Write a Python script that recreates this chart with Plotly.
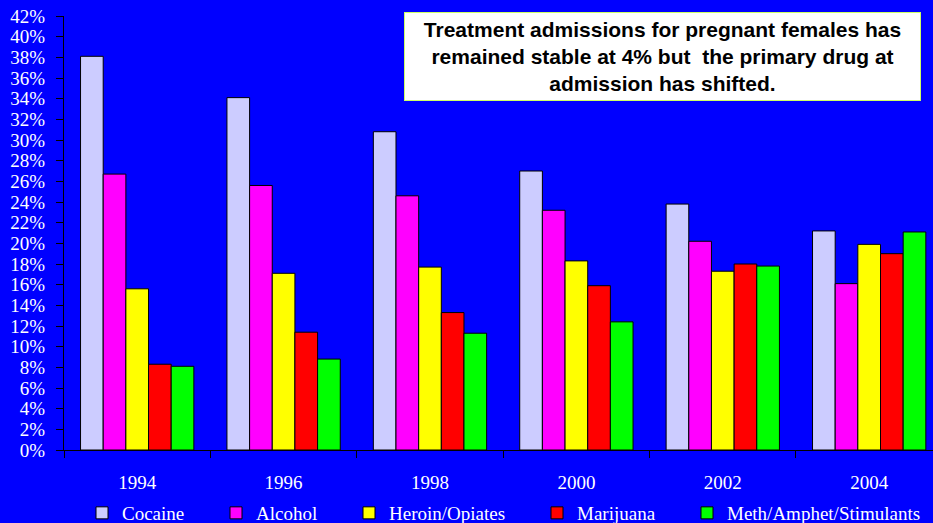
import plotly.graph_objects as go

years = ["1994", "1996", "1998", "2000", "2002", "2004"]
series_names = ["Cocaine", "Alcohol", "Heroin/Opiates", "Marijuana", "Meth/Amphet/Stimulants"]
cocaine = [38.1, 34.1, 30.8, 27.0, 23.8, 21.2]
alcohol = [26.7, 25.6, 24.6, 23.2, 20.2, 16.1]
heroin = [15.6, 17.1, 17.7, 18.3, 17.3, 19.9]
marijuana = [8.3, 11.4, 13.3, 15.9, 18.0, 19.0]
meth = [8.1, 8.8, 11.3, 12.4, 17.8, 21.1]
y_ticks = list(range(0, 43, 2))
y_tick_labels = [f"{v}%" for v in y_ticks]
title_text = ("Treatment admissions for pregnant females has<br>"
              "remained stable at 4% but  the primary drug at<br>"
              "admission has shifted.")

colors = ["#CCCCFF", "#FF00FF", "#FFFF00", "#FF0000", "#00FF00"]
values = [cocaine, alcohol, heroin, marijuana, meth]

W, H = 933, 523
# left pixel of each legend entry (one legend per series, placed like the original)
legend_left_px = [82, 216, 349, 537, 687]
legend_ids = ["legend", "legend2", "legend3", "legend4", "legend5"]

serif = "Liberation Serif, Times New Roman, serif"
fig = go.Figure()
for name, vals, col, lid in zip(series_names, values, colors, legend_ids):
    fig.add_trace(go.Bar(
        x=years, y=vals, name=name, legend=lid,
        marker=dict(color=col, line=dict(color="black", width=1)),
    ))

legend_layouts = {}
for lid, px in zip(legend_ids, legend_left_px):
    legend_layouts[lid] = dict(
        orientation="h", xref="container", yref="container",
        x=px / W, y=1 - 513 / H, xanchor="left", yanchor="middle",
        font=dict(family=serif, size=19, color="white"),
        bgcolor="rgba(0,0,0,0)", borderwidth=0,
    )

fig.update_layout(
    width=W, height=H,
    margin=dict(l=64, r=0, t=16, b=73, autoexpand=False),
    paper_bgcolor="#0000FF", plot_bgcolor="#0000FF",
    barmode="group", bargap=0.226, bargroupgap=0,
    font=dict(family=serif, size=19, color="white"),
    showlegend=True,
    xaxis=dict(type="category", range=[-0.5, 5.436], showline=True, linecolor="black",
               linewidth=1, ticks="outside", tickson="boundaries", ticklen=7,
               tickcolor="black", showgrid=False, ticklabelstandoff=15, automargin=False,
               tickfont=dict(family=serif, size=19, color="white")),
    yaxis=dict(range=[0, 42], tickmode="array", tickvals=y_ticks, ticktext=y_tick_labels,
               showline=True, linecolor="black", linewidth=1, ticks="outside",
               ticklen=7, tickcolor="black", showgrid=False, zeroline=False,
               ticklabelstandoff=7, automargin=False,
               tickfont=dict(family=serif, size=19, color="white")),
    annotations=[dict(
        text=title_text, xref="paper", yref="paper", x=0.6887, y=0.9067,
        xanchor="center", yanchor="middle", showarrow=False,
        font=dict(family="Liberation Sans, Arial, sans-serif", size=21, color="black", weight="bold"),
        bgcolor="white", bordercolor="#CCFF66", borderwidth=1, borderpad=0,
        width=515, height=87, align="center",
    )],
    **legend_layouts,
)

fig.write_html(
    "out.html",
    config={"displayModeBar": False},
    post_script="document.body.style.margin='0';document.body.style.background='#0000FF';document.body.style.overflow='hidden';",
)
